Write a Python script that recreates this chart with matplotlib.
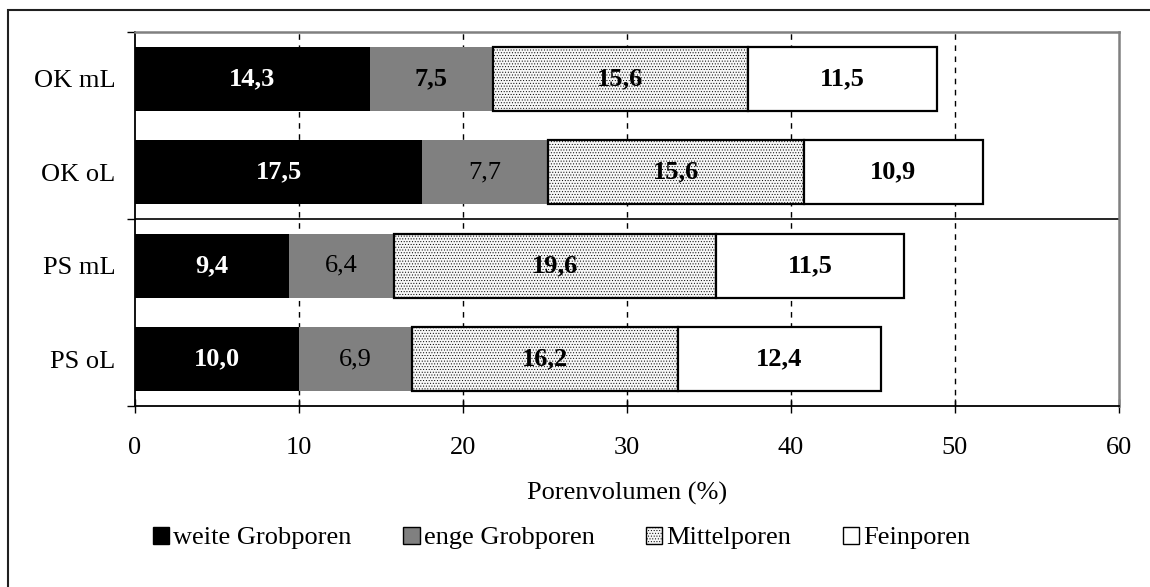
import matplotlib
matplotlib.use("Agg")
import matplotlib.pyplot as plt
from matplotlib.patches import Patch, Rectangle
import numpy as np

plt.rcParams['font.family'] = ['Liberation Serif', 'DejaVu Serif']
plt.rcParams['hatch.linewidth'] = 0.4
plt.rcParams['hatch.color'] = '#d2d2d2'

categories = ['OK mL', 'OK oL', 'PS mL', 'PS oL']
weite_grobporen = [14.3, 17.5, 9.4, 10.0]
enge_grobporen = [7.5, 7.7, 6.4, 6.9]
mittelporen = [15.6, 15.6, 19.6, 16.2]
feinporen = [11.5, 10.9, 11.5, 12.4]
series_names = ['weite Grobporen', 'enge Grobporen', 'Mittelporen', 'Feinporen']
enge_bold = [True, False, False, False]
xticks = [0, 10, 20, 30, 40, 50, 60]
xlabel = 'Porenvolumen (%)'

FS = 19
W, H = 1150, 587
fig = plt.figure(figsize=(W / 100, H / 100), dpi=100)
ax = fig.add_axes([135 / W, 1 - 406 / H, (1119 - 135) / W, (406 - 32) / H])

ypos = np.arange(len(categories))[::-1].astype(float)
height = 0.68

styles = [
    dict(color='black', edgecolor='black', linewidth=0),
    dict(color='#808080', edgecolor='#808080', linewidth=0),
    dict(facecolor='#f7f7f7', edgecolor='black', linewidth=1.6, hatch='......'),
    dict(facecolor='white', edgecolor='black', linewidth=1.6),
]
data = [weite_grobporen, enge_grobporen, mittelporen, feinporen]
left = np.zeros(len(categories))
for k, (vals, st) in enumerate(zip(data, styles)):
    vals = np.array(vals)
    ax.barh(ypos, vals, left=left, height=height, zorder=3, **st)
    for i, v in enumerate(vals):
        txt = f"{v:.1f}".replace('.', ',')
        if k == 0:
            color, weight = 'white', 'bold'
        elif k == 1:
            color, weight = 'black', ('bold' if enge_bold[i] else 'normal')
        else:
            color, weight = 'black', 'bold'
        ax.text(left[i] + v / 2, ypos[i], txt, ha='center', va='center',
                color=color, fontsize=FS, fontweight=weight, zorder=4)
    left = left + vals

ax.set_xlim(0, 60)
ax.set_ylim(-0.5, len(categories) - 0.5)

# grid
for x in xticks[1:-1]:
    ax.axvline(x, color='black', linewidth=1.0, linestyle=(0, (4, 4)), zorder=1)
# separator between OK and PS
ax.axhline(1.5, color='black', linewidth=1.2, zorder=2)

ax.set_xticks(xticks)
ax.set_xticklabels([str(x) for x in xticks], fontsize=FS)
ax.tick_params(axis='x', direction='inout', length=10, width=1.0, pad=17, colors='black')

ax.set_yticks([-0.5, 1.5, 3.5])
ax.set_yticklabels([])
ax.set_yticks(ypos, minor=True)
ax.set_yticklabels(categories, minor=True, fontsize=FS)
ax.tick_params(axis='y', which='major', direction='out', length=6, width=1.0)
ax.tick_params(axis='y', which='minor', length=0, pad=14)

for s in ['top', 'right']:
    ax.spines[s].set_color('#808080')
    ax.spines[s].set_linewidth(1.8)
for s in ['bottom', 'left']:
    ax.spines[s].set_color('black')
    ax.spines[s].set_linewidth(1.3)

ax.set_xlabel(xlabel, fontsize=FS, va='center')
ax.xaxis.set_label_coords(0.5, -(493 - 406) / (406 - 32))

handles = [Patch(facecolor=styles[k].get('color', styles[k].get('facecolor')),
                 edgecolor='black', linewidth=1.0,
                 hatch=styles[k].get('hatch')) for k in range(4)]
leg = fig.legend(handles, series_names, loc='center', ncol=4,
                 bbox_to_anchor=(561.5 / W, 1 - 538 / H), frameon=False,
                 fontsize=FS, handlelength=0.62, handleheight=0.62,
                 handletextpad=0.15, columnspacing=1.95, borderpad=0)

# outer frame
fig.patches.append(Rectangle((8 / W, -0.1), 1.2, 1 - 10 / H + 0.1,
                             transform=fig.transFigure, fill=False,
                             edgecolor='#202020', linewidth=1.5))

fig.savefig('out.png', dpi=100)
